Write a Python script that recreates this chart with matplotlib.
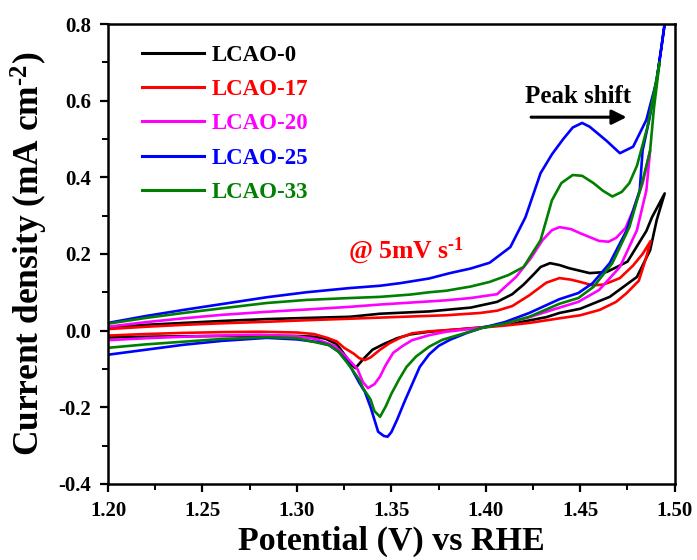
import matplotlib
matplotlib.use("Agg")
import matplotlib.pyplot as plt
from matplotlib.ticker import MultipleLocator, FormatStrFormatter

plt.rcParams['font.family'] = ['Liberation Serif', 'DejaVu Serif']
plt.rcParams['font.weight'] = 'bold'
plt.rcParams['axes.unicode_minus'] = False
plt.rcParams['mathtext.fontset'] = 'custom'
plt.rcParams['mathtext.rm'] = 'Liberation Serif:bold'
plt.rcParams['mathtext.default'] = 'rm'

labels = ["LCAO-0", "LCAO-17", "LCAO-20", "LCAO-25", "LCAO-33"]
colors = ["#000000", "#FF0000", "#FF00FF", "#0000FF", "#008000"]

# LCAO-0 (black)
v0_f = [1.200, 1.220, 1.240, 1.260, 1.284, 1.305, 1.328, 1.344, 1.370, 1.392, 1.406, 1.414, 1.420, 1.425, 1.429, 1.434, 1.439, 1.444, 1.455, 1.464, 1.469, 1.475, 1.480, 1.485, 1.488, 1.4947]
j0_f = [0.008, 0.015, 0.020, 0.025, 0.030, 0.033, 0.036, 0.044, 0.050, 0.060, 0.075, 0.095, 0.120, 0.145, 0.166, 0.176, 0.171, 0.163, 0.150, 0.153, 0.165, 0.180, 0.220, 0.260, 0.296, 0.358]
v0_r = [1.4947, 1.4905, 1.487, 1.480, 1.4656, 1.450, 1.439, 1.432, 1.414, 1.397, 1.385, 1.370, 1.360, 1.353, 1.346, 1.340, 1.335, 1.331, 1.328, 1.326, 1.321, 1.315, 1.309, 1.300, 1.280, 1.260, 1.240, 1.220, 1.200]
j0_r = [0.358, 0.289, 0.210, 0.140, 0.088, 0.057, 0.046, 0.035, 0.018, 0.008, 0.003, -0.003, -0.010, -0.020, -0.035, -0.050, -0.075, -0.098, -0.085, -0.068, -0.035, -0.021, -0.016, -0.014, -0.013, -0.014, -0.015, -0.016, -0.018]

# LCAO-17 (red)
v17_f = [1.200, 1.220, 1.240, 1.260, 1.284, 1.305, 1.328, 1.350, 1.379, 1.397, 1.406, 1.414, 1.423, 1.432, 1.439, 1.445, 1.450, 1.4566, 1.462, 1.466, 1.471, 1.478, 1.483, 1.4873]
j17_f = [0.004, 0.010, 0.015, 0.019, 0.023, 0.027, 0.031, 0.035, 0.040, 0.046, 0.052, 0.064, 0.092, 0.125, 0.137, 0.133, 0.127, 0.118, 0.120, 0.127, 0.137, 0.170, 0.200, 0.234]
v17_r = [1.4873, 1.485, 1.481, 1.4746, 1.469, 1.4603, 1.450, 1.439, 1.423, 1.410, 1.398, 1.385, 1.370, 1.361, 1.355, 1.349, 1.344, 1.339, 1.336, 1.333, 1.330, 1.325, 1.321, 1.316, 1.309, 1.300, 1.280, 1.260, 1.240, 1.220, 1.200]
j17_r = [0.234, 0.192, 0.130, 0.098, 0.075, 0.054, 0.040, 0.032, 0.020, 0.013, 0.008, 0.003, -0.002, -0.007, -0.018, -0.033, -0.050, -0.070, -0.077, -0.072, -0.060, -0.045, -0.028, -0.019, -0.009, -0.005, -0.003, -0.004, -0.006, -0.009, -0.013]

# LCAO-20 (magenta)
v20_f = [1.200, 1.220, 1.240, 1.260, 1.284, 1.305, 1.328, 1.344, 1.360, 1.379, 1.392, 1.406, 1.416, 1.424, 1.430, 1.435, 1.439, 1.445, 1.450, 1.460, 1.465, 1.469, 1.474, 1.478, 1.483, 1.487]
j20_f = [0.010, 0.022, 0.032, 0.041, 0.049, 0.055, 0.062, 0.068, 0.073, 0.079, 0.085, 0.095, 0.140, 0.190, 0.236, 0.262, 0.270, 0.265, 0.254, 0.234, 0.232, 0.242, 0.268, 0.314, 0.384, 0.470]
v20_r = [1.487, 1.485, 1.480, 1.471, 1.460, 1.449, 1.439, 1.423, 1.410, 1.397, 1.379, 1.370, 1.361, 1.356, 1.351, 1.347, 1.344, 1.341, 1.3376, 1.335, 1.332, 1.326, 1.320, 1.310, 1.300, 1.280, 1.260, 1.240, 1.220, 1.200]
j20_r = [0.470, 0.366, 0.262, 0.166, 0.106, 0.075, 0.060, 0.035, 0.018, 0.007, -0.003, -0.012, -0.025, -0.040, -0.058, -0.090, -0.120, -0.140, -0.150, -0.135, -0.100, -0.068, -0.040, -0.022, -0.015, -0.011, -0.013, -0.016, -0.020, -0.025]

# LCAO-25 (blue)
v25_f = [1.200, 1.220, 1.240, 1.260, 1.284, 1.305, 1.328, 1.344, 1.355, 1.370, 1.381, 1.392, 1.402, 1.413, 1.421, 1.429, 1.435, 1.441, 1.446, 1.451, 1.455, 1.464, 1.471, 1.478, 1.485, 1.4905, 1.4947, 1.4960]
j25_f = [0.020, 0.038, 0.054, 0.069, 0.087, 0.100, 0.111, 0.117, 0.124, 0.136, 0.150, 0.162, 0.177, 0.218, 0.296, 0.411, 0.460, 0.500, 0.530, 0.542, 0.532, 0.495, 0.463, 0.480, 0.550, 0.654, 0.800, 0.850]
v25_r = [1.4960, 1.493, 1.490, 1.4865, 1.483, 1.4815, 1.4746, 1.4656, 1.4566, 1.449, 1.439, 1.423, 1.410, 1.398, 1.390, 1.381, 1.375, 1.370, 1.365, 1.361, 1.357, 1.353, 1.350, 1.348, 1.346, 1.343, 1.339, 1.336, 1.333, 1.329, 1.326, 1.322, 1.317, 1.311, 1.300, 1.284, 1.260, 1.240, 1.220, 1.200]
j25_r = [0.850, 0.740, 0.640, 0.550, 0.470, 0.366, 0.262, 0.176, 0.124, 0.098, 0.082, 0.046, 0.022, 0.007, -0.006, -0.024, -0.040, -0.062, -0.095, -0.140, -0.185, -0.233, -0.265, -0.277, -0.275, -0.264, -0.200, -0.160, -0.136, -0.100, -0.077, -0.055, -0.038, -0.030, -0.023, -0.019, -0.027, -0.037, -0.050, -0.063]

# LCAO-33 (green)
v33_f = [1.200, 1.220, 1.240, 1.260, 1.284, 1.305, 1.328, 1.344, 1.360, 1.370, 1.379, 1.392, 1.402, 1.412, 1.420, 1.429, 1.435, 1.440, 1.446, 1.451, 1.457, 1.462, 1.467, 1.472, 1.476, 1.480, 1.4855, 1.489, 1.492]
j33_f = [0.018, 0.033, 0.046, 0.058, 0.072, 0.080, 0.085, 0.088, 0.094, 0.100, 0.104, 0.115, 0.127, 0.145, 0.166, 0.236, 0.340, 0.385, 0.406, 0.404, 0.385, 0.365, 0.350, 0.362, 0.385, 0.430, 0.530, 0.620, 0.700]
v33_r = [1.492, 1.489, 1.487, 1.483, 1.476, 1.467, 1.457, 1.449, 1.439, 1.423, 1.410, 1.398, 1.388, 1.377, 1.370, 1.363, 1.358, 1.354, 1.350, 1.347, 1.344, 1.341, 1.339, 1.335, 1.333, 1.328, 1.322, 1.317, 1.300, 1.284, 1.260, 1.240, 1.220, 1.200]
j33_r = [0.700, 0.580, 0.470, 0.390, 0.270, 0.176, 0.114, 0.085, 0.070, 0.036, 0.018, 0.007, -0.008, -0.024, -0.042, -0.068, -0.095, -0.128, -0.165, -0.198, -0.225, -0.210, -0.180, -0.150, -0.128, -0.093, -0.055, -0.038, -0.020, -0.017, -0.022, -0.029, -0.036, -0.045]

series = [
    (v0_f, j0_f, v0_r, j0_r),
    (v17_f, j17_f, v17_r, j17_r),
    (v20_f, j20_f, v20_r, j20_r),
    (v25_f, j25_f, v25_r, j25_r),
    (v33_f, j33_f, v33_r, j33_r),
]

fig = plt.figure(figsize=(6.97, 5.60), dpi=100)
ax = fig.add_axes([0.155, 0.136, 0.813, 0.821])

for (vf, jf, vr, jr), lab, col in zip(series, labels, colors):
    ax.plot(list(vf) + list(vr), list(jf) + list(jr), color=col, lw=1.9, label=lab,
            solid_joinstyle='round')

ax.set_xlim(1.20, 1.50)
ax.set_ylim(-0.4, 0.8)
ax.xaxis.set_major_locator(MultipleLocator(0.05))
ax.xaxis.set_minor_locator(MultipleLocator(0.025))
ax.yaxis.set_major_locator(MultipleLocator(0.2))
ax.yaxis.set_minor_locator(MultipleLocator(0.1))
ax.xaxis.set_major_formatter(FormatStrFormatter('%.2f'))
ax.yaxis.set_major_formatter(FormatStrFormatter('%.1f'))
ax.tick_params(which='major', direction='out', length=6, width=1.6, labelsize=15, pad=6)
ax.tick_params(which='minor', direction='out', length=4, width=1.4)
ax.tick_params(top=False, right=False)
for lbl in ax.get_xticklabels() + ax.get_yticklabels():
    lbl.set_fontweight('bold')
for s in ax.spines.values():
    s.set_linewidth(1.8)

ax.set_xlabel('Potential (V) vs RHE', fontsize=24.5, fontweight='bold', labelpad=4)
ax.set_ylabel('Current density (mA cm$^{\\text{-2}}$)', fontsize=25.5, fontweight='bold', labelpad=6)

leg = ax.legend(loc='upper left', bbox_to_anchor=(0.031, 0.99), frameon=False,
                fontsize=16.5, handlelength=2.7, handletextpad=0.35, labelspacing=0.58,
                borderpad=0.2)
for txt, col in zip(leg.get_texts(), colors):
    txt.set_color(col)
    txt.set_fontweight('bold')
for h in leg.legend_handles:
    h.set_linewidth(2.2)

ax.text(1.449, 0.612, 'Peak shift', fontsize=18, fontweight='bold', ha='center', va='center')
ax.annotate('', xy=(1.476, 0.557), xytext=(1.4225, 0.557),
            arrowprops=dict(arrowstyle='-|>', color='black', lw=2.2, mutation_scale=22))
ax.text(1.358, 0.21, '@ 5mV s$^{\\text{-1}}$', fontsize=18.5, fontweight='bold', color='#FF0000',
        ha='center', va='center')

fig.savefig('out.png', dpi=100)
